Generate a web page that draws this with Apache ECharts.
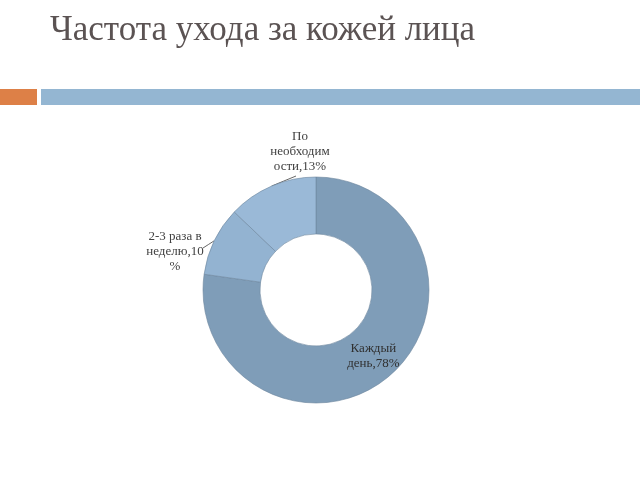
<!DOCTYPE html>
<html><head><meta charset="utf-8">
<script src="https://cdn.jsdelivr.net/npm/echarts@6/dist/echarts.min.js"></script>
<style>html,body{margin:0;padding:0;background:#fff}#c{width:640px;height:480px}</style>
</head><body><div id="c"></div>
<script>
const titleText = 'Частота ухода за кожей лица';
const categories = ['Каждый день', '2-3 раза в неделю', 'По необходимости'];
const values = [78, 10, 13];
const labelTexts = ['Каждый\nдень,78%', '2-3 раза в\nнеделю,10\n%', 'По\nнеобходим\nости,13%'];
const colors = ['#7f9db8', '#93b3d1', '#9ab9d7'];

const chart = echarts.init(document.getElementById('c'), null, {renderer: 'canvas'});
const labelPos = [null, [175, 252], [300, 152]];
// where each label line meets its label, relative to label centre
const lineEnd = [null, [28, -4], [-4, 24]];
chart.setOption({
  animation: false,
  backgroundColor: '#ffffff',
  graphic: [
    {type: 'text', left: 50, top: 13, style: {text: titleText, font: '35px "Liberation Serif"', fill: '#5b5353'}},
    {type: 'rect', shape: {x: 0, y: 89, width: 37, height: 16}, style: {fill: '#dd8047'}},
    {type: 'rect', shape: {x: 41, y: 89, width: 599, height: 16}, style: {fill: '#94b6d2'}}
  ],
  series: [{
    type: 'pie',
    center: [316, 290],
    radius: [56, 113],
    startAngle: 90,
    clockwise: true,
    itemStyle: {borderColor: '#6d879e', borderWidth: 0.6},
    label: {
      fontFamily: 'Liberation Serif', fontSize: 13, color: '#404040', lineHeight: 15,
      align: 'center'
    },
    labelLine: {show: true, length: 8, length2: 6, lineStyle: {color: '#404040', width: 0.8}},
    labelLayout: function (p) {
      const pos = labelPos[p.dataIndex];
      if (!pos) return {};
      const a = p.labelLinePoints ? p.labelLinePoints[0] : null;
      const e = [pos[0] + lineEnd[p.dataIndex][0], pos[1] + lineEnd[p.dataIndex][1]];
      const out = {x: pos[0], y: pos[1], align: 'center', verticalAlign: 'middle'};
      if (a) out.labelLinePoints = [a, [(a[0] + e[0]) / 2, (a[1] + e[1]) / 2], e];
      return out;
    },
    data: categories.map((c, i) => ({
      name: c, value: values[i],
      itemStyle: {color: colors[i]},
      label: i === 0 ? {position: 'inside', formatter: labelTexts[i], color: '#303030'} : {position: 'outside', formatter: labelTexts[i]},
      labelLine: {show: i !== 0}
    }))
  }]
});
</script></body></html>
